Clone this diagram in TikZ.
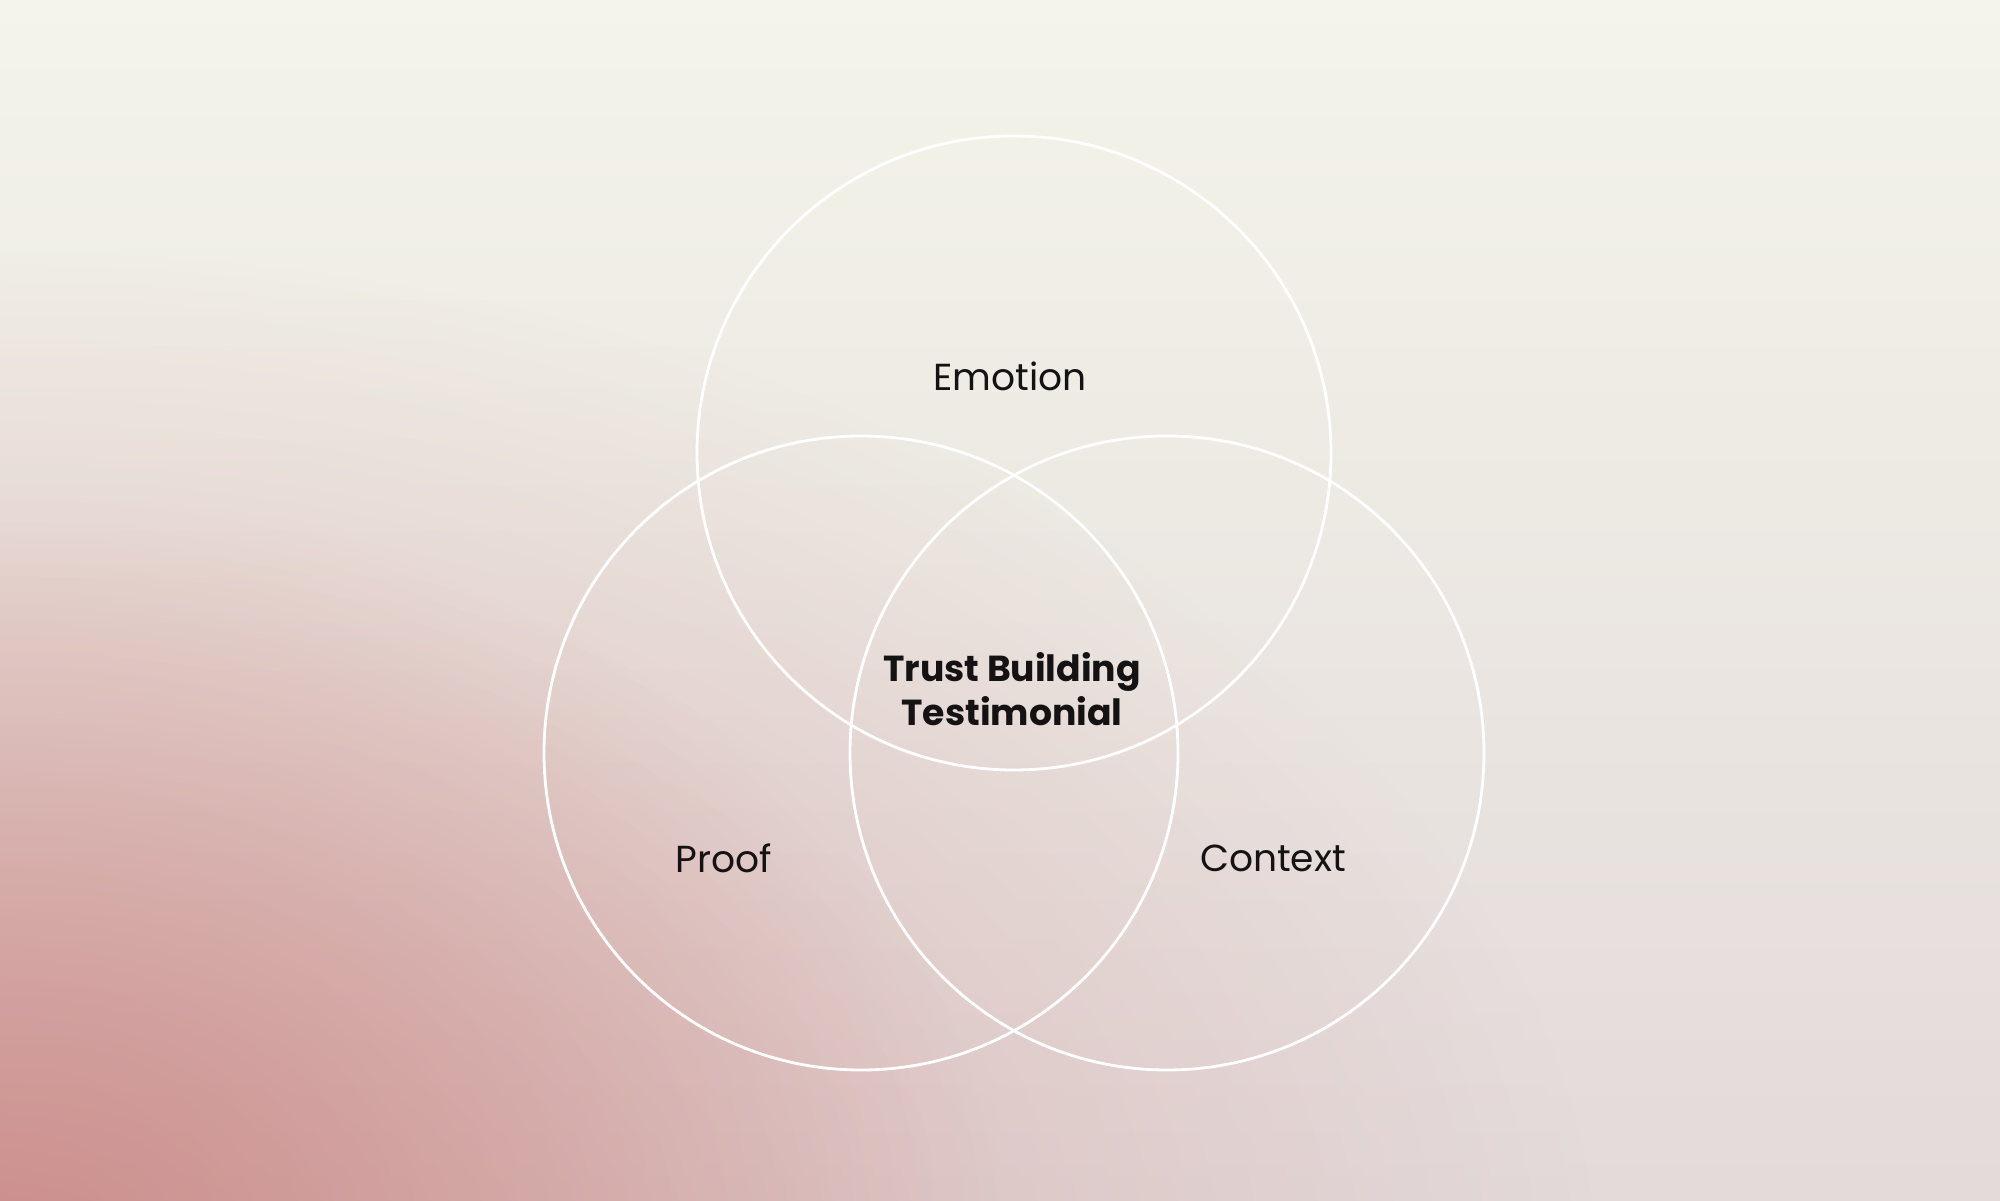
\documentclass[tikz,border=0pt]{standalone}
\usepackage{fontspec}
\setmainfont{Poppins}
\usetikzlibrary{fadings}
\usepackage{xcolor}

\definecolor{creamTop}{HTML}{F4F4EA}
\definecolor{mistBottom}{HTML}{E3DADA}
\definecolor{roseGlow}{HTML}{C77E7B}
\definecolor{inkText}{HTML}{141212}

\tikzfading[name=glowfade, inner color=transparent!0, outer color=transparent!100]

\begin{document}
\begin{tikzpicture}[
            ring/.style={circle, draw=white, line width=0.8pt, minimum size=6.34cm, inner sep=0pt},
            label/.style={font=\fontsize{10.7}{13}\selectfont, text=inkText, align=center},
            core/.style={font=\fontsize{10.3}{12.4}\selectfont\bfseries, text=inkText, align=center}
        ]
            % --- FUNDO ---
            \useasboundingbox (0,0) rectangle (20,12);
            \clip (0,0) rectangle (20,12);
            \shade[top color=creamTop, bottom color=mistBottom] (0,0) rectangle (20,12);
            \fill[roseGlow, opacity=0.5, path fading=glowfade] (0,-1) ellipse (16cm and 10.5cm);
            \fill[roseGlow, opacity=0.65, path fading=glowfade] (0,-0.5) ellipse (10cm and 7.5cm);

            % --- CIRCULOS ---
            \node[ring] (emotionRing) at (10.14,7.47) {};
            \node[ring] (proofRing) at (8.61,4.47) {};
            \node[ring] (contextRing) at (11.67,4.47) {};

            % --- TEXTOS ---
            \node[label] (emotion) at (10.10,8.24) {Emotion};
            \node[label] (proof) at (7.24,3.42) {Proof};
            \node[label] (context) at (12.73,3.42) {Context};
            \node[core] (trust) at (10.12,5.11) {Trust Building\\Testimonial};

        \end{tikzpicture}
\end{document}
